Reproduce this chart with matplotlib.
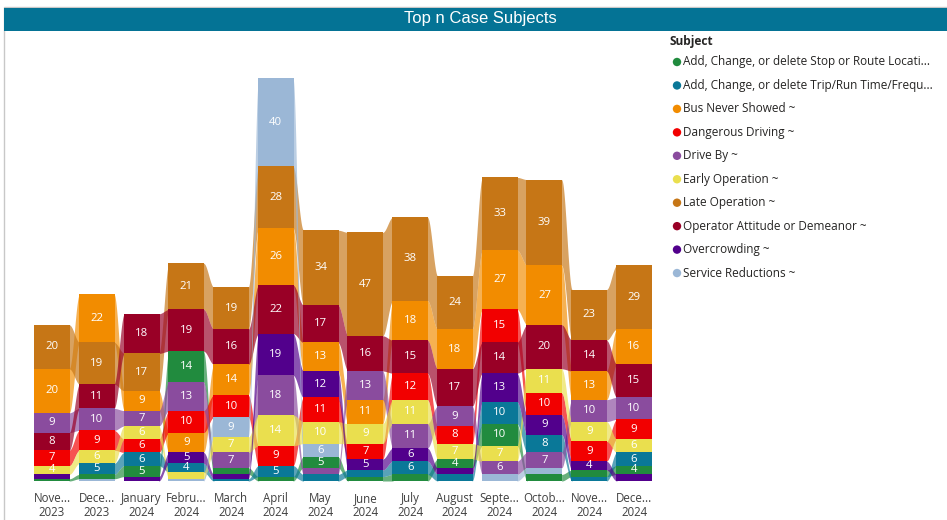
import numpy as np
import matplotlib
matplotlib.use("Agg")
import matplotlib.pyplot as plt
from matplotlib.patches import Rectangle, Circle

# ---------------- data ----------------
months = ["Nove...\n2023", "Dece...\n2023", "January\n2024", "Febru...\n2024", "March\n2024",
          "April\n2024", "May\n2024", "June\n2024", "July\n2024", "August\n2024",
          "Septe...\n2024", "Octob...\n2024", "Nove...\n2024", "Dece...\n2024"]

series_names = [
    "Add, Change, or delete Stop or Route Locati...",
    "Add, Change, or delete Trip/Run Time/Frequ...",
    "Bus Never Showed ~",
    "Dangerous Driving ~",
    "Drive By ~",
    "Early Operation ~",
    "Late Operation ~",
    "Operator Attitude or Demeanor ~",
    "Overcrowding ~",
    "Service Reductions ~",
]

stop_route      = [1, 2, 5, 14, 3, 2, 5, 2, 3, 4, 10, 3, 3, 4]
trip_run        = [0, 5, 6, 4, 1, 5, 3, 3, 6, 3, 10, 8, 2, 6]
bus_never       = [20, 22, 9, 9, 14, 26, 13, 11, 18, 18, 27, 27, 13, 16]
dangerous       = [7, 9, 6, 10, 10, 9, 11, 7, 12, 8, 15, 10, 9, 9]
drive_by        = [9, 10, 7, 13, 7, 18, 3, 13, 11, 9, 6, 7, 10, 10]
early_op        = [4, 6, 6, 3, 7, 14, 10, 9, 11, 7, 7, 11, 9, 6]
late_op         = [20, 19, 17, 21, 19, 28, 34, 47, 38, 24, 33, 39, 23, 29]
operator_att    = [8, 11, 18, 19, 16, 22, 17, 16, 15, 17, 14, 20, 14, 15]
overcrowding    = [2, 0, 2, 5, 2, 19, 12, 5, 6, 3, 13, 9, 4, 3]
service_red     = [0, 1, 0, 1, 9, 40, 6, 0, 0, 0, 3, 3, 0, 0]

values = np.array([stop_route, trip_run, bus_never, dangerous, drive_by, early_op,
                   late_op, operator_att, overcrowding, service_red], dtype=float)

colors = ["#218B3E", "#0A7898", "#F28C00", "#F20000", "#8A4C9E",
          "#EADF4E", "#C67616", "#990026", "#52008C", "#9BB7D6"]

FONT = ["Open Sans", "DejaVu Sans"]

# ---------------- figure ----------------
W, H = 947, 520
fig = plt.figure(figsize=(W / 100, H / 100), dpi=100)
fig.patch.set_facecolor("white")

bg = fig.add_axes([0, 0, 1, 1])
bg.set_xlim(0, W)
bg.set_ylim(H, 0)
bg.axis("off")
bg.add_patch(Rectangle((4, 7), W, H, fill=False, edgecolor="#C8C8C8", lw=1.0))
bg.add_patch(Rectangle((4, 8), W, 23, facecolor="#047395", edgecolor="none"))
bg.text(480, 19, "Top n Case Subjects", color="white", ha="center", va="center",
        fontsize=12, family=["Liberation Sans Narrow", "Liberation Sans", "DejaVu Sans"])

# ---------------- chart axes ----------------
px_per_cat = 44.77
x_first = 52.0
base_px = 481.0
top_px = 33.0
px_per_unit = 2.2
ax_left_px, ax_right_px = 0.0, 660.0

ax = fig.add_axes([ax_left_px / W, (H - base_px) / H, (ax_right_px - ax_left_px) / W,
                   (base_px - top_px) / H])
ax.set_xlim((ax_left_px - x_first) / px_per_cat, (ax_right_px - x_first) / px_per_cat)
ax.set_ylim(0, (base_px - top_px) / px_per_unit)
for s in ax.spines.values():
    s.set_visible(False)
ax.set_yticks([])
ax.patch.set_alpha(0)

n_ser, n_m = values.shape
w = 36.0 / px_per_cat

# stacking: sort ascending (value, series index) bottom -> top
bottoms = np.zeros_like(values)
for m in range(n_m):
    order = sorted(range(n_ser), key=lambda s: (values[s, m], s))
    acc = 0.0
    for s in order:
        bottoms[s, m] = acc
        acc += values[s, m]
tops = bottoms + values

# ribbons
u = np.linspace(0, 1, 40)
t = (1 - np.cos(np.pi * u)) / 2
for s in range(n_ser):
    for m in range(n_m - 1):
        if values[s, m] > 0 and values[s, m + 1] > 0:
            x0 = m + w / 2 - 0.02
            x1 = m + 1 - w / 2 + 0.02
            xs = x0 + (x1 - x0) * u
            lo = bottoms[s, m] + (bottoms[s, m + 1] - bottoms[s, m]) * t
            hi = tops[s, m] + (tops[s, m + 1] - tops[s, m]) * t
            ax.fill_between(xs, lo, hi, color=colors[s], alpha=0.68, lw=0, zorder=1)

# columns
x = np.arange(n_m)
for s in range(n_ser):
    ax.bar(x, values[s], bottom=bottoms[s], width=w, color=colors[s], lw=0, zorder=2)

# labels
for s in range(n_ser):
    for m in range(n_m):
        v = values[s, m]
        if v >= 4:
            ax.text(m, bottoms[s, m] + v / 2, f"{int(v)}", ha="center", va="center",
                    color="white", fontsize=8.2, family=FONT, zorder=3)

ax.set_xticks(x)
ax.set_xticklabels(months, fontsize=8.3, color="#404040", family=FONT,
                   linespacing=1.08)
ax.tick_params(axis="x", length=0, pad=8)

# ---------------- legend ----------------
bg.text(670, 42, "Subject", fontsize=8.6, fontweight="bold", color="#252423",
        ha="left", va="center", family=FONT)
for i, (name, c) in enumerate(zip(series_names, colors)):
    y = 62 + i * 23.45
    bg.add_patch(Circle((677, y), 4.2, facecolor=c, edgecolor="none"))
    bg.text(683, y, name, fontsize=8.5, color="#252423", ha="left", va="center",
            family=FONT)

fig.savefig("out.png", dpi=100)
